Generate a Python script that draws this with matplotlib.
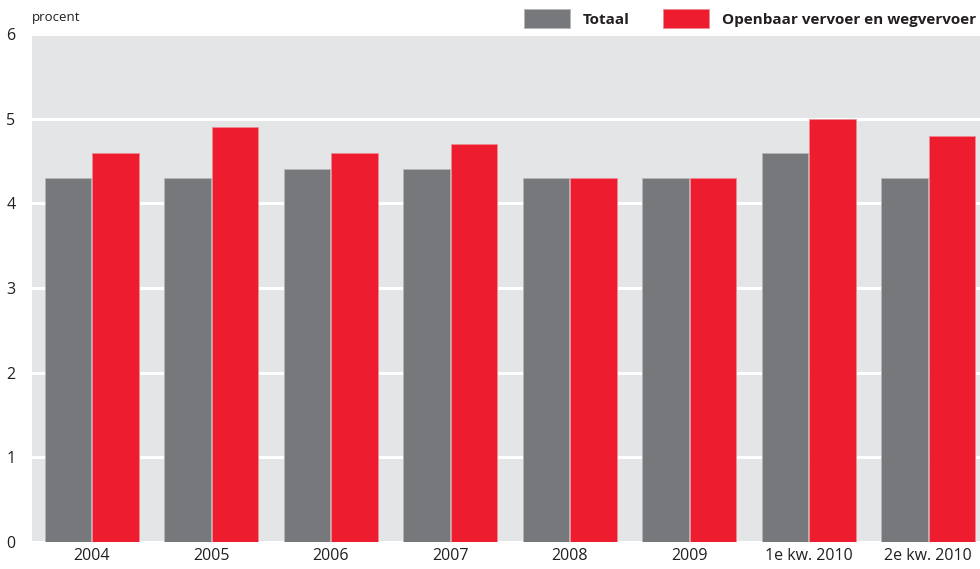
import matplotlib.pyplot as plt
import numpy as np

plt.rcParams['font.family'] = ['Open Sans', 'DejaVu Sans']

categories = ['2004', '2005', '2006', '2007', '2008', '2009', '1e kw. 2010', '2e kw. 2010']
totaal = [4.3, 4.3, 4.4, 4.4, 4.3, 4.3, 4.6, 4.3]
ov_weg = [4.6, 4.9, 4.6, 4.7, 4.3, 4.3, 5.0, 4.8]
series_names = ['Totaal', 'Openbaar vervoer en wegvervoer']

grey = '#77787b'
red = '#ed1c2e'

fig = plt.figure(figsize=(9.8, 5.69), dpi=100)
ax = fig.add_axes([32 / 980, 27 / 569, 956 / 980, 508 / 569])
ax.set_facecolor('#e4e5e7')

x = np.arange(len(categories))
w = 0.39
ax.bar(x - w / 2 - 0.005, totaal, w, color=grey, edgecolor='#b5b6b8', linewidth=0.6,
       label=series_names[0], zorder=3)
ax.bar(x + w / 2 + 0.005, ov_weg, w, color=red, edgecolor='#f08a92', linewidth=0.6,
       label=series_names[1], zorder=3)

ax.set_xlim(-0.5, len(categories) - 0.5)
ax.set_ylim(0, 6)
ax.set_yticks(range(0, 7))
ax.set_xticks(x)
ax.set_xticklabels(categories)
ax.yaxis.grid(True, color='white', linewidth=2.2, zorder=1)
ax.set_axisbelow(True)
for s in ax.spines.values():
    s.set_visible(False)
ax.tick_params(length=0, labelsize=11.5, colors='#231f20')
ax.tick_params(axis='y', pad=12)
ax.tick_params(axis='x', pad=4)

fig.text(32 / 980, 1 - 17 / 569, 'procent', fontsize=9.5, color='#231f20', va='center', ha='left')

leg = fig.legend(loc='upper right', bbox_to_anchor=(1.01, 1.008), ncol=2, frameon=False,
                 handlelength=3.0, handleheight=1.5, handletextpad=0.85, columnspacing=2.2,
                 prop={'weight': 'bold', 'size': 11})
for t in leg.get_texts():
    t.set_color('#231f20')

fig.savefig('out.png', dpi=100)
